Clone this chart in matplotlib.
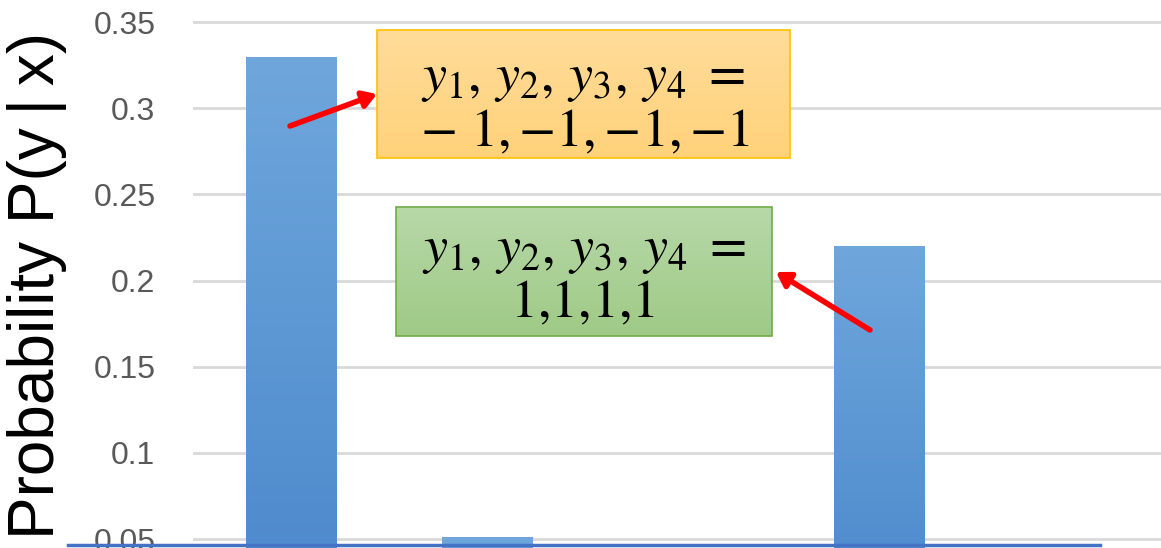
import numpy as np
import matplotlib
matplotlib.use("Agg")
from matplotlib import pyplot as plt
from matplotlib.patches import Rectangle, FancyArrowPatch

# data (hidden categories fall below the visible range)
categories = ["c1", "c2", "c3", "c4", "c5"]
probs = [0.33, 0.051, 0.03, 0.22, 0.03]
yticks = [0.05, 0.1, 0.15, 0.2, 0.25, 0.3, 0.35]
ytick_labels = ["0.05", "0.1", "0.15", "0.2", "0.25", "0.3", "0.35"]

plt.rcParams['mathtext.fontset'] = 'stix'
W, H = 1161, 548
fig = plt.figure(figsize=(W / 100, H / 100), dpi=100)

# main axes: plot area runs past the right edge (the picture is a crop)
left, right = 193, 1173
ax = fig.add_axes([left / W, 0, (right - left) / W, 1])
x = np.arange(len(categories))
bars = ax.bar(x, probs, width=0.46, color="#5b9bd5", zorder=2)

# vertical gradient on bars
grad = np.linspace(0, 1, 256).reshape(-1, 1)
cmap = matplotlib.colors.LinearSegmentedColormap.from_list("b", ["#4a87cb", "#6fa7dc"])
for b in bars:
    bx, by = b.get_x(), b.get_y()
    bw, bh = b.get_width(), b.get_height()
    im = ax.imshow(grad, extent=[bx, bx + bw, by, by + bh], origin="lower",
                   cmap=cmap, aspect="auto", zorder=3)
    im.set_clip_path(b)
ax.set_xlim(-0.5, len(categories) - 0.5)
ax.set_ylim(0.0448, 0.3628)

ax.set_yticks(yticks)
ax.set_yticklabels(ytick_labels, fontsize=23, color="#595959", family="Liberation Sans")
ax.tick_params(axis="y", length=0, pad=27)
ax.set_xticks([])
ax.grid(axis="y", color="#d9d9d9", linewidth=2, zorder=0)
for s in ax.spines.values():
    s.set_visible(False)

fig.text(37 / W, 1 - 285 / H, "Probability P(y\u2009|\u2009x)", rotation=90, fontsize=46,
         family="Liberation Sans", ha="center", va="center")

# overlay in pixel coordinates for callouts
ov = fig.add_axes([0, 0, 1, 1], zorder=5)
ov.axis("off")
ov.patch.set_visible(False)

def grad_box(x0, y0, x1, y1, c_top, c_bot, edge):
    cm = matplotlib.colors.LinearSegmentedColormap.from_list("g", [c_top, c_bot])
    ov.imshow(grad, extent=[x0, x1, y1, y0], origin="upper", cmap=cm,
              aspect="auto", zorder=1)
    ov.add_patch(Rectangle((x0, y0), x1 - x0, y1 - y0, fill=False,
                           edgecolor=edge, linewidth=1.2, zorder=2))

grad_box(377, 30, 790, 158, "#ffdc9a", "#ffd27a", "#ffc000")
grad_box(396, 207, 772, 336, "#b7d8a8", "#9fca86", "#70ad47")
ov.set_xlim(0, W)
ov.set_ylim(H, 0)

fs = 39
ov.text(583, 78, r"$y_1,\, y_2,\, y_3,\, y_4\ =$", fontsize=fs, ha="center", va="center", zorder=3)
ov.text(585, 131, r"$-\ 1,{-}1,{-}1,{-}1$", fontsize=fs, ha="center", va="center", zorder=3)
ov.text(584, 250, r"$y_1,\, y_2,\, y_3,\, y_4\ =$", fontsize=fs, ha="center", va="center", zorder=3)
ov.text(583, 302, r"$1{,}1{,}1{,}1$", fontsize=fs, ha="center", va="center", zorder=3)

for (x0, y0), (x1, y1) in [((290, 126), (377, 94)), ((870, 330), (776, 272))]:
    ov.add_patch(FancyArrowPatch((x0, y0), (x1, y1), arrowstyle="-|>,head_length=8,head_width=5",
                                 color="#ff0000", linewidth=4, shrinkA=0, shrinkB=0, zorder=4))

ov.plot([68, 1100], [545, 545], color="#4472c4", linewidth=2.5, zorder=4)

fig.savefig("out.png", dpi=100)
